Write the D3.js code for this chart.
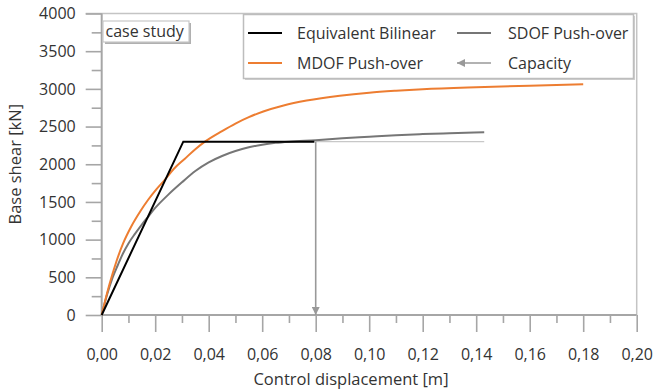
<!DOCTYPE html>
<html>
<head>
<meta charset="utf-8">
<script src="https://cdn.jsdelivr.net/npm/d3@7"></script>
<style>
  html, body { margin: 0; padding: 0; background: #fff; }
  svg { display: block; font-family: "Open Sans", sans-serif; }
</style>
</head>
<body>
<svg id="chart" width="655" height="390"></svg>
<script>
// Control displacement [m] / base shear [kN]
const bilinearX = [0, 0.0305, 0.0795];
const bilinearV = [0, 2300, 2300];

const sdofX = [0, 0.002, 0.004, 0.006, 0.008, 0.010, 0.0125, 0.015, 0.0175, 0.020, 0.025, 0.030, 0.035, 0.040, 0.045, 0.050, 0.055, 0.060, 0.065, 0.070, 0.080, 0.090, 0.100, 0.110, 0.120, 0.130, 0.143];
const sdofV = [0, 270, 490, 660, 820, 950, 1080, 1200, 1310, 1420, 1600, 1760, 1910, 2025, 2110, 2175, 2225, 2260, 2284, 2300, 2320, 2345, 2365, 2385, 2400, 2412, 2425];

const mdofX = [0, 0.002, 0.004, 0.0055, 0.008, 0.011, 0.0145, 0.0173, 0.0205, 0.0235, 0.027, 0.031, 0.035, 0.0386, 0.045, 0.050, 0.055, 0.0604, 0.068, 0.0766, 0.089, 0.100, 0.110, 0.120, 0.140, 0.160, 0.180];
const mdofV = [0, 290, 540, 710, 950, 1171, 1380, 1526, 1670, 1790, 1940, 2070, 2200, 2300, 2440, 2540, 2625, 2700, 2780, 2845, 2910, 2950, 2975, 2995, 3022, 3043, 3060];

// Capacity: displacement, shear level, and end of the horizontal guide
const capacityX = 0.08;
const capacityV = 2300;
const capacityGuideEnd = 0.143;

const xTicks = [0, 0.02, 0.04, 0.06, 0.08, 0.10, 0.12, 0.14, 0.16, 0.18, 0.20];
const xMinorTicks = [0.01, 0.03, 0.05, 0.07, 0.09, 0.11, 0.13, 0.15, 0.17, 0.19];
const yTicks = [0, 500, 1000, 1500, 2000, 2500, 3000, 3500, 4000];
const yMinorTicks = [250, 750, 1250, 1750, 2250, 2750, 3250, 3750];

const seriesNames = ["Equivalent Bilinear", "SDOF Push-over", "MDOF Push-over", "Capacity"];
const boxLabel = "case study";
const xTitle = "Control displacement [m]";
const yTitle = "Base shear [kN]";

const svg = d3.select("#chart");
const plotL = 101.7, plotR = 636.7, plotT = 13.5, plotB = 315;
const x = d3.scaleLinear().domain([0, 0.2]).range([plotL, plotR]);
const y = d3.scaleLinear().domain([0, 4000]).range([plotB, plotT]);

const axisColor = "#a6a6a6";
const textColor = "#333";
const fmt = d => d3.format(".2f")(d).replace(".", ",");

// plot frame (top and right edges)
svg.append("path")
  .attr("d", `M${plotL - 16},${plotT}H${plotR}V${plotB}`)
  .attr("fill", "none").attr("stroke", "#c4c4c4").attr("stroke-width", 1.5);

// y axis
const yAxis = svg.append("g").attr("transform", `translate(${plotL},0)`)
  .call(d3.axisLeft(y).tickValues(yTicks).tickSize(16).tickPadding(10).tickFormat(d3.format("d")));
const yMinor = svg.append("g").attr("transform", `translate(${plotL},0)`)
  .call(d3.axisLeft(y).tickValues(yMinorTicks).tickSize(10).tickFormat(""));

// x axis
const xAxis = svg.append("g").attr("transform", `translate(0,${plotB})`)
  .call(d3.axisBottom(x).tickValues(xTicks).tickSize(17).tickPadding(17).tickFormat(fmt));
const xMinor = svg.append("g").attr("transform", `translate(0,${plotB})`)
  .call(d3.axisBottom(x).tickValues(xMinorTicks).tickSize(8).tickFormat(""));

[yAxis, yMinor, xAxis, xMinor].forEach(g => {
  g.select(".domain").attr("stroke", axisColor).attr("stroke-width", 2);
  g.selectAll(".tick line").attr("stroke", axisColor).attr("stroke-width", 1.6);
  g.selectAll(".tick text").attr("fill", textColor)
    .style("font-family", "'Open Sans', sans-serif").style("font-size", "16px");
});
yMinor.select(".domain").remove();
xMinor.select(".domain").remove();
yAxis.select(".domain").attr("d", `M0,${plotT}V${plotB}`);
xAxis.select(".domain").attr("d", `M${plotL},0H${plotR}`);

// axis titles
svg.append("text")
  .attr("x", 351).attr("y", 385)
  .attr("text-anchor", "middle").attr("fill", textColor)
  .style("font-size", "16.5px").text(xTitle);
svg.append("text")
  .attr("transform", `translate(21,${(plotT + plotB) / 2}) rotate(-90)`)
  .attr("text-anchor", "middle").attr("fill", textColor)
  .style("font-size", "16.5px").text(yTitle);

// arrow marker for the capacity line
const defs = svg.append("defs");
defs.append("marker").attr("id", "arrowhead")
  .attr("viewBox", "0 0 10 10").attr("refX", 10).attr("refY", 5)
  .attr("markerWidth", 5).attr("markerHeight", 5).attr("orient", "auto-start-reverse")
  .attr("markerUnits", "strokeWidth")
  .append("path").attr("d", "M0,0L10,5L0,10Z").attr("fill", "#999");

const line = d3.line().x(d => x(d[0])).y(d => y(d[1]));
const zip = (xs, vs) => xs.map((v, i) => [v, vs[i]]);

// capacity guide and arrow
svg.append("path")
  .attr("d", line([[capacityGuideEnd, capacityV], [capacityX, capacityV]]))
  .attr("fill", "none").attr("stroke", "#c8c8c8").attr("stroke-width", 1.2);
svg.append("path")
  .attr("d", line([[capacityX, capacityV], [capacityX, 0]]))
  .attr("fill", "none").attr("stroke", "#999").attr("stroke-width", 1.6)
  .attr("marker-end", "url(#arrowhead)");

// curves
const curve = d3.line().x(d => x(d[0])).y(d => y(d[1])).curve(d3.curveMonotoneX);
svg.append("path").datum(zip(sdofX, sdofV)).attr("d", curve)
  .attr("fill", "none").attr("stroke", "#767676").attr("stroke-width", 2);
svg.append("path").datum(zip(mdofX, mdofV)).attr("d", curve)
  .attr("fill", "none").attr("stroke", "#ed7d31").attr("stroke-width", 2);
svg.append("path").datum(zip(bilinearX, bilinearV)).attr("d", line)
  .attr("fill", "none").attr("stroke", "#000").attr("stroke-width", 2);

// "case study" label box with shadow
svg.append("rect").attr("x", 105).attr("y", 23).attr("width", 86).attr("height", 21)
  .attr("fill", "#b0b0b0");
svg.append("rect").attr("x", 103).attr("y", 21).attr("width", 86).attr("height", 21)
  .attr("fill", "#fff").attr("stroke", "#c8c8c8").attr("stroke-width", 1.2);
svg.append("text").attr("x", 105.5).attr("y", 37).attr("fill", textColor)
  .style("font-size", "16px").text(boxLabel);

// legend box
const lg = svg.append("g");
lg.append("rect").attr("x", 245).attr("y", 16).attr("width", 390).attr("height", 64)
  .attr("fill", "#d0d0d0");
lg.append("rect").attr("x", 243.5).attr("y", 14.5).attr("width", 390).attr("height", 64)
  .attr("fill", "#fff").attr("stroke", "#bdbdbd").attr("stroke-width", 1.5);

const legendItems = [
  { name: seriesNames[0], color: "#000", sx: 248, ty: 33, tx: 297, arrow: false },
  { name: seriesNames[1], color: "#767676", sx: 457, ty: 33, tx: 508, arrow: false },
  { name: seriesNames[2], color: "#ed7d31", sx: 248, ty: 63, tx: 297, arrow: false },
  { name: seriesNames[3], color: "#999", sx: 457, ty: 63, tx: 508, arrow: true }
];
legendItems.forEach(it => {
  const p = lg.append("line")
    .attr("x1", it.arrow ? it.sx + 34 : it.sx).attr("x2", it.arrow ? it.sx : it.sx + 34)
    .attr("y1", it.ty).attr("y2", it.ty)
    .attr("stroke", it.color).attr("stroke-width", it.arrow ? 1.6 : 2);
  if (it.arrow) p.attr("marker-end", "url(#arrowhead)");
  lg.append("text").attr("x", it.tx).attr("y", it.ty).attr("dy", "0.35em")
    .attr("fill", textColor).style("font-size", "16px").text(it.name);
});
</script>
</body>
</html>
